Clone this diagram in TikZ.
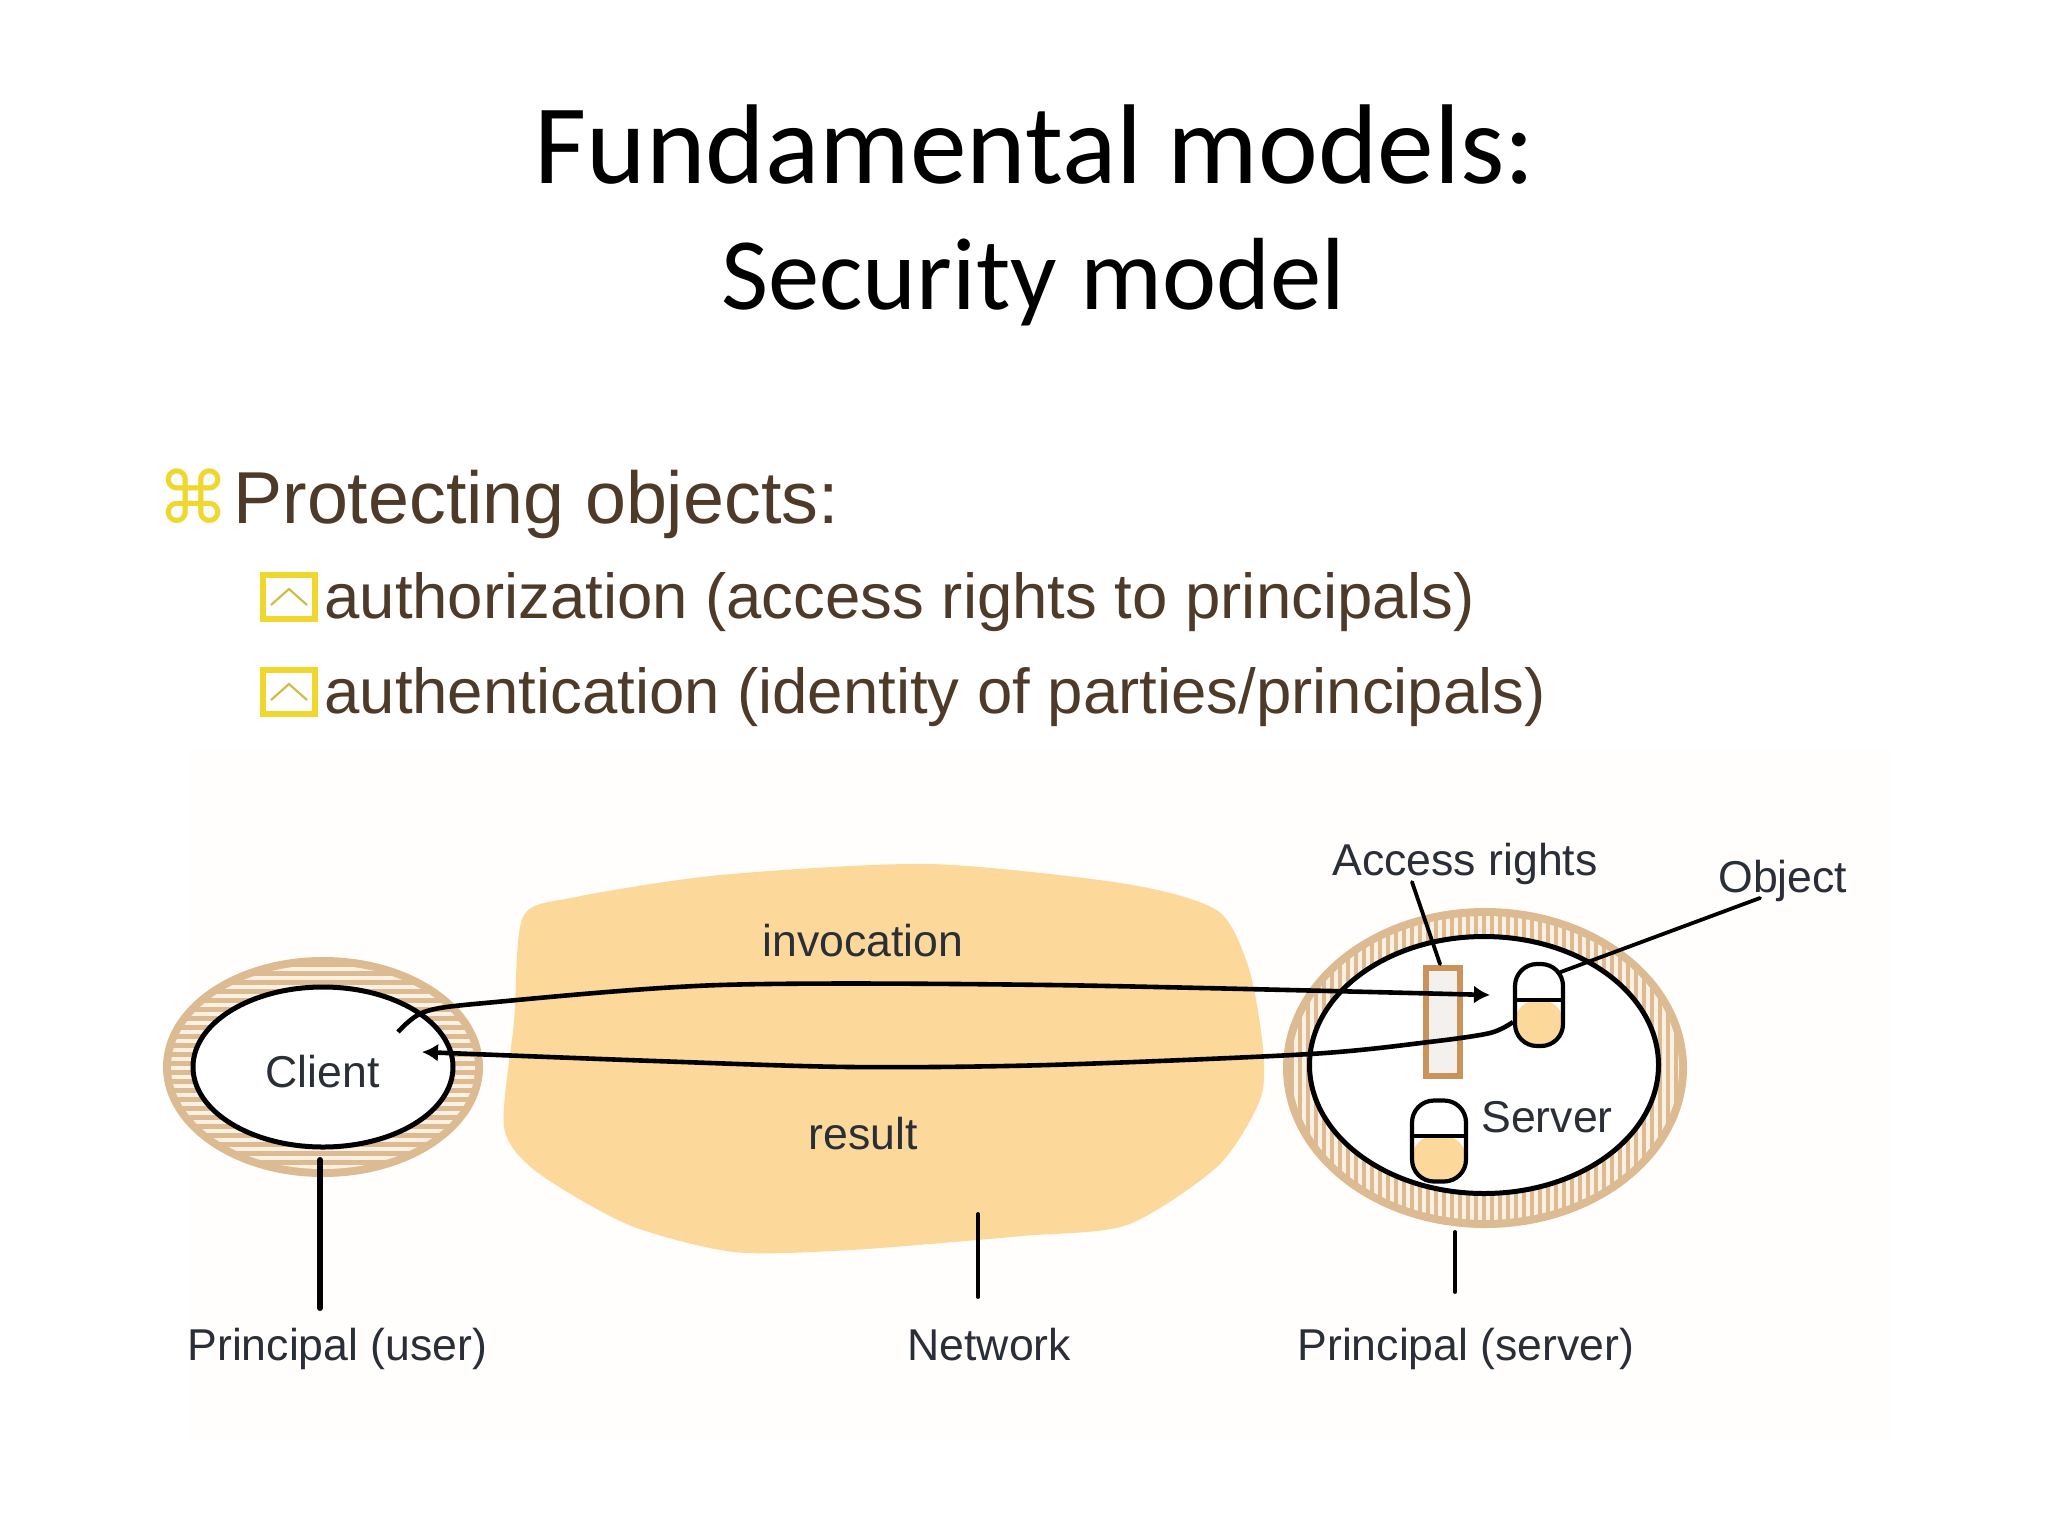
\documentclass[tikz,border=0pt]{standalone}
\usepackage{fontspec}
\setmainfont{Liberation Sans}
\newfontfamily\titlefont{Carlito}
\newfontfamily\symfont{DejaVu Sans}
\usetikzlibrary{shapes.geometric,arrows.meta}
\definecolor{netfill}{HTML}{FCD99B}
\definecolor{ringtan}{HTML}{DDBB92}
\definecolor{ringlight}{HTML}{FBF0E2}
\definecolor{rectbrown}{HTML}{C9935A}
\definecolor{bodytext}{HTML}{4E3A28}
\definecolor{difftext}{HTML}{2A2E36}
\definecolor{gold}{HTML}{EFD72E}
\tikzset{
  x=0.5pt,y=-0.5pt,
  ringbase/.style={ellipse,draw=ringtan,line width=2pt,inner sep=0pt,fill=ringtan},
  innerring/.style={ellipse,draw=black,line width=2.5pt,fill=white,inner sep=0pt},
  capsule/.style={rectangle,rounded corners=11pt,draw=black,line width=2.1pt,fill=white,inner sep=0pt,
    path picture={
      \fill[netfill] ([yshift=2.5pt]path picture bounding box.west) rectangle (path picture bounding box.south east);
      \draw[black,line width=2.1pt] ([yshift=2.5pt]path picture bounding box.west) -- ([yshift=2.5pt]path picture bounding box.east);
    }},
  flow/.style={draw=black,line width=2.3pt,-{Latex[length=8pt,width=9pt]}},
  leader/.style={draw=black,line width=1.9pt,line cap=round},
  lbl/.style={anchor=base west,inner sep=0pt,text=difftext,font=\fontsize{22.3}{26}\selectfont},
  bul/.style={anchor=base west,inner sep=0pt,text=bodytext},
  ttl/.style={anchor=base,inner sep=0pt,text=black},
  boxicon/.style={rectangle,draw=gold,line width=2.8pt,fill=white,minimum width=26pt,minimum height=22pt,inner sep=0pt,
    path picture={
      \draw[gold!70!gray,line width=1.1pt] ([xshift=4pt,yshift=-15pt]path picture bounding box.north west)
        -- ([yshift=-7pt]path picture bounding box.north) -- ([xshift=-4pt,yshift=-15pt]path picture bounding box.north east);
    }},
}
\begin{document}
\begin{tikzpicture}
\useasboundingbox (0,0) rectangle (2048,1536);
\fill[white] (0,0) rectangle (2048,1536);
\fill[white!98.5!netfill] (190,750) rectangle (1890,1440);

% title
\node[ttl,font=\titlefont\fontsize{56.7}{60}\selectfont] (title) at (1035,183) {Fundamental models:};
\node[ttl,font=\titlefont\fontsize{51.3}{56}\selectfont] (subtitle) at (1033,309) {Security model};

% bullets
\node[anchor=base west,inner sep=0pt,text=gold,font=\symfont\fontsize{36}{40}\selectfont] (cmd) at (157,523) {⌘};
\node[bul,font=\fontsize{36.8}{40}\selectfont] (b0) at (233,523) {Protecting objects:};
\node[boxicon] (i1) at (289,597) {};
\node[boxicon] (i2) at (289,692) {};
\node[bul,font=\fontsize{31.75}{36}\selectfont] (b1) at (324,618) {authorization (access rights to principals)};
\node[bul,font=\fontsize{31.75}{36}\selectfont] (b2) at (324,713) {authentication (identity of parties/principals)};

% network cloud
\fill[netfill] plot[smooth cycle,tension=0.45] coordinates {
 (523,917) (576,897) (720,875) (930,864) (1127,884) (1218,911) (1249,969) (1263,1048)
 (1260,1100) (1218,1166) (1127,1225) (1022,1236) (851,1250) (734,1252) (629,1225)
 (537,1172) (504,1127) (514,1022)};

% client ring
\node[ringbase,minimum width=158pt,minimum height=108pt] (cring) at (323,1067) {};
\begin{scope}
 \clip (cring.center) ellipse [x radius=76pt,y radius=51pt];
 \foreach \yy in {960,969,...,1180} \draw[ringlight,line width=1.9pt] (160,\yy) -- (490,\yy);
\end{scope}
\node[innerring,minimum width=130pt,minimum height=80pt] (client) at (323,1067) {};

% server ring
\node[ringbase,minimum width=200pt,minimum height=158pt] (sring) at (1485,1068) {};
\begin{scope}
 \clip (sring.center) ellipse [x radius=97pt,y radius=76pt];
 \foreach \xx in {1280,1288,...,1692} \draw[ringlight,line width=1.7pt] (\xx,900) -- (\xx,1235);
\end{scope}
\node[innerring,minimum width=174.5pt,minimum height=128.5pt] (server) at (1484,1065) {};

% access rights rectangle and objects
\node[rectangle,draw=rectbrown,line width=3.2pt,fill=ringlight!70!gray!30!white,minimum width=17pt,minimum height=54pt,inner sep=0pt] (acl) at (1443,1022) {};
\node[capsule,minimum width=24pt,minimum height=41pt] (obj) at (1539,1005) {};
\node[capsule,minimum width=27pt,minimum height=40.5pt] (obj2) at (1439,1141) {};

% free ends
\coordinate (invStart) at (398,1032);
\coordinate (invEnd) at (1490,995);
\coordinate (resStart) at (1513,1022);
\coordinate (resEnd) at (422,1052);
\coordinate (puTop) at (320,1160);
\coordinate (puBot) at (320,1308);
\coordinate (netTop) at (978,1214);
\coordinate (netBot) at (978,1297);
\coordinate (psTop) at (1455,1232);
\coordinate (psBot) at (1455,1292);
\coordinate (arTop) at (1412,882);
\coordinate (arBot) at (1440,964);
\coordinate (obTop) at (1760,898);
\coordinate (obBot) at (1558,973);

% flows
\draw[flow] plot[smooth,tension=0.5] coordinates {(invStart) (424,1012) (485,1003) (720,985) (1050,985) (invEnd)};
\draw[flow] plot[smooth,tension=0.5] coordinates {(resStart) (1490,1033) (1429,1042) (1310,1054) (1048,1065) (851,1067) (655,1061) (resEnd)};

% leaders
\draw[leader,line width=3pt] (puTop) -- (puBot);
\draw[leader] (netTop) -- (netBot);
\draw[leader] (psTop) -- (psBot);
\draw[leader] (arTop) -- (arBot);
\draw[leader] (obTop) -- (obBot);

% labels
\node[lbl] (linv) at (762,956) {invocation};
\node[lbl] (lres) at (808,1149) {result};
\node[lbl] (lcli) at (265,1087) {Client};
\node[lbl] (lsrv) at (1481,1132) {Server};
\node[lbl] (lacc) at (1332,875) {Access rights};
\node[lbl] (lobj) at (1718,892) {Object};
\node[lbl] (lpu) at (187,1360) {Principal (user)};
\node[lbl] (lnet) at (907,1360) {Network};
\node[lbl] (lps) at (1297,1360) {Principal (server)};
\end{tikzpicture}
\end{document}
